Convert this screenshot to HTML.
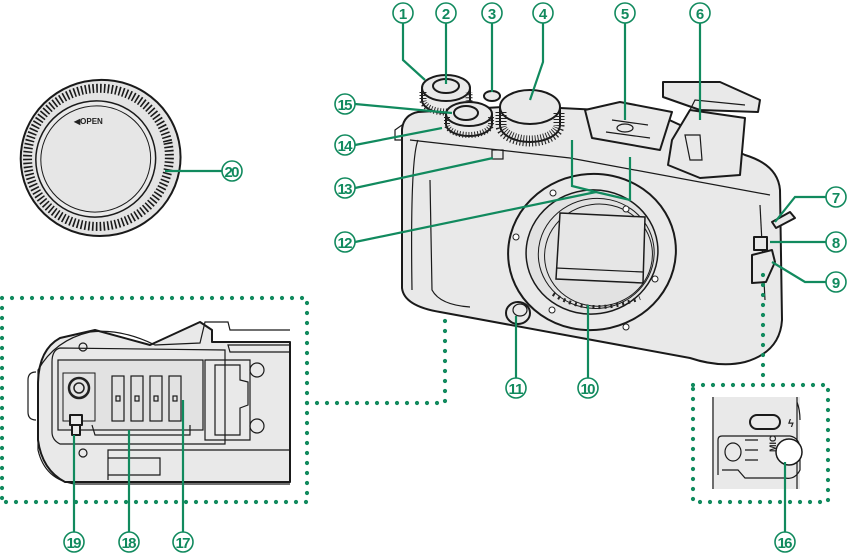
<!DOCTYPE html>
<html><head><meta charset="utf-8"><style>
html,body{margin:0;padding:0;background:#fff;}
svg{display:block;font-family:"Liberation Sans",sans-serif;}
.g{fill:none;stroke:#118a5e;stroke-width:2.2;}
.d{fill:none;stroke:#118a5e;stroke-width:4.2;stroke-linecap:round;stroke-dasharray:0 10;}
.b{fill:#e9e9e9;stroke:#1a1a1a;stroke-width:2;stroke-linejoin:round;}
.t{fill:none;stroke:#1a1a1a;stroke-width:1.2;}
.l circle{fill:#fff;stroke:#118a5e;stroke-width:1.6;}
.l text{fill:#118a5e;font-size:15px;font-weight:bold;text-anchor:middle;}
</style></head><body>
<svg width="848" height="556" viewBox="0 0 848 556" xmlns="http://www.w3.org/2000/svg">
<!-- body cap -->
<g transform="rotate(-12 100 155)">
<ellipse cx="100" cy="158" rx="80" ry="78" fill="#e4e4e4" stroke="#1a1a1a" stroke-width="2"/>
<ellipse cx="98" cy="157" rx="71" ry="69" fill="none" stroke="#1a1a1a" stroke-width="9" stroke-dasharray="1.6 2.2"/>
<ellipse cx="95" cy="158" rx="60" ry="58" fill="#e9e9e9" stroke="#1a1a1a" stroke-width="1.5"/>
<ellipse cx="95" cy="158" rx="55" ry="53" fill="#e6e6e6" stroke="#1a1a1a" stroke-width="1"/>
</g>
<text x="74" y="124" font-size="8" font-weight="bold" fill="#222">◀OPEN</text>

<!-- camera body -->
<path class="b" d="M402,130 Q403,115 418,112 L520,106 L600,110 L665,118 L745,155 Q778,165 780,190 L782,320 Q780,352 745,362 Q720,368 690,358 L440,312 Q404,306 402,288 Z"/>
<path class="t" d="M418,140 Q410,160 412,290"/>
<path class="t" d="M430,180 L432,290 Q440,305 470,307"/>
<path class="t" d="M410,140 Q500,150 570,158 L770,195"/>
<path class="t" d="M760,205 L765,300"/>
<path class="t" d="M395,130 L402,125 L402,140 L395,140 Z"/>
<!-- dial 1/2 -->
<path class="b" d="M422,88 L422,100 A24,13 0 0 0 470,100 L470,88 Z"/>
<ellipse cx="446" cy="88" rx="24" ry="13" class="b"/>
<path d="M423,92 L423,100 A23,12 0 0 0 469,100 L469,92" fill="none" stroke="#222" stroke-width="7" stroke-dasharray="1 2"/>
<ellipse cx="446" cy="86" rx="13" ry="7" class="b"/>
<!-- button 3 -->
<ellipse cx="492" cy="96" rx="8" ry="5" class="b"/>
<!-- dial 14/15 -->
<path class="b" d="M446,114 L446,124 A23,12 0 0 0 492,124 L492,114 Z"/>
<ellipse cx="469" cy="114" rx="23" ry="12" class="b"/>
<path d="M447,117 L447,124 A22,11 0 0 0 491,124 L491,117" fill="none" stroke="#222" stroke-width="6" stroke-dasharray="1 2"/>
<ellipse cx="466" cy="113" rx="12" ry="7" class="b"/>
<!-- dial 4 -->
<path class="b" d="M500,108 L500,125 A30,17 0 0 0 560,125 L560,108 Z"/>
<ellipse cx="530" cy="107" rx="30" ry="17" class="b"/>
<path d="M501,112 L501,125 A29,16 0 0 0 559,125 L559,112" fill="none" stroke="#222" stroke-width="11" stroke-dasharray="1 2"/>
<!-- hot shoe -->
<path class="b" d="M585,110 L620,102 L672,112 L660,150 L592,138 Z"/>
<path class="t" d="M612,120 L648,125 M606,132 L650,138"/>
<ellipse cx="625" cy="128" rx="8" ry="4" class="t"/>
<!-- viewfinder -->
<path class="b" d="M672,140 L690,110 L745,118 L740,175 L700,178 L668,165 Z"/>
<path class="t" d="M685,135 L690,160 L702,160 L700,135 Z"/>
<path class="b" d="M663,82 L720,82 L760,100 L758,112 L700,110 L663,97 Z"/>
<path class="t" d="M690,110 L695,100 L745,105"/>
<!-- indicator 13 -->
<rect x="492" y="150" width="11" height="9" class="t" fill="#fff"/>
<!-- lens mount -->
<g transform="rotate(-8 592 252)">
<ellipse cx="592" cy="252" rx="84" ry="78" class="b"/>
<ellipse cx="592" cy="252" rx="66" ry="62" fill="#e2e2e2" stroke="#1a1a1a" stroke-width="1.5"/>
<ellipse cx="596" cy="254" rx="58" ry="55" fill="none" stroke="#1a1a1a" stroke-width="1"/>
<ellipse cx="598" cy="256" rx="54" ry="51" fill="none" stroke="#1a1a1a" stroke-width="1"/>
</g>
<path d="M560,213 L645,217 L643,283 L556,279 Z" fill="#e6e6e6" stroke="#1a1a1a" stroke-width="1.5"/>
<path d="M556,268 L643,272" class="t"/>
<path d="M553,294 Q590,318 640,298" fill="none" stroke="#222" stroke-width="4" stroke-dasharray="2 4"/>
<g fill="#fff" stroke="#222" stroke-width="1">
<circle cx="553" cy="193" r="3"/><circle cx="626" cy="209" r="3"/><circle cx="655" cy="279" r="3"/>
<circle cx="516" cy="237" r="3"/><circle cx="552" cy="310" r="3"/><circle cx="626" cy="327" r="3"/>
</g>
<!-- lock 11 -->
<ellipse cx="518" cy="313" rx="12" ry="11" class="b"/>
<ellipse cx="520" cy="310" rx="7" ry="6" class="t"/>
<!-- strap lug / doors 7,8,9 -->
<path class="b" d="M772,222 L790,212 L795,218 L776,228 Z"/>
<rect x="754" y="237" width="13" height="13" class="b"/>
<path class="b" d="M752,255 L772,250 L775,262 L766,282 L752,283 Z"/>

<!-- bottom view -->
<g>
<path class="b" d="M290,342 L212,342 L212,330 L200,322 L150,345 L95,330 L60,338 Q38,350 38,385 L38,440 Q42,470 65,482 L290,482 Z" stroke="none"/>
<path class="t" stroke-width="2" d="M290,330 L230,330 L228,322 L205,322 L200,343 L155,345 Q120,328 90,332 Q55,340 38,370 L38,450 Q45,480 75,484 L290,484"/>
<path class="t" stroke-width="2" d="M36,372 Q28,372 28,380 L28,412 Q28,420 36,420"/>
<path class="t" d="M290,352 L230,352 L228,345 L290,345"/>
<path class="t" d="M290,450 L108,450 L108,480 M108,458 L160,458 L160,475 L108,475"/>
<path class="t" d="M52,362 Q52,350 60,348 L225,350 L225,444 L60,444 Q52,440 52,432 Z"/>
<rect x="58" y="360" width="145" height="70" fill="#e2e2e2" stroke="#1a1a1a" stroke-width="1.2"/>
<rect x="63" y="373" width="32" height="48" fill="#e4e4e4" stroke="#1a1a1a" stroke-width="1"/>
<circle cx="79" cy="388" r="10" fill="none" stroke="#222" stroke-width="2.5"/>
<circle cx="79" cy="388" r="5" fill="none" stroke="#222" stroke-width="1.5"/>
<g class="t" fill="#e9e9e9">
<rect x="112" y="376" width="12" height="45"/><rect x="131" y="376" width="12" height="45"/>
<rect x="150" y="376" width="12" height="45"/><rect x="169" y="376" width="12" height="45"/>
<rect x="116" y="396" width="4" height="5"/><rect x="135" y="396" width="4" height="5"/>
<rect x="154" y="396" width="4" height="5"/><rect x="173" y="396" width="4" height="5"/>
</g>
<path class="t" d="M92,425 L95,435 L190,435 L190,425"/>
<rect x="70" y="415" width="12" height="10" class="b" stroke-width="1.2"/>
<rect x="72" y="425" width="8" height="10" class="b" stroke-width="1.2"/>
<path class="t" stroke-width="2" d="M205,360 L250,360 L250,440 L205,440 Z"/>
<path class="t" d="M215,365 L240,365 L240,380 L248,382 L248,405 L240,408 L240,435 L215,435 Z"/>
<circle cx="257" cy="370" r="7" class="t"/><circle cx="257" cy="426" r="7" class="t"/>
<circle cx="83" cy="347" r="4" class="t"/><circle cx="83" cy="453" r="4" class="t"/>
</g>

<!-- mic box contents -->
<rect x="712" y="397" width="88" height="92" fill="#e9e9e9"/>
<path class="t" d="M713,397 L713,489 M797,397 L797,489 M797,402 Q800,410 800,420"/>
<rect x="750" y="415" width="30" height="14" rx="7" class="b" stroke-width="1.5"/>
<text x="788" y="427" font-size="11" font-weight="bold" fill="#222">&#x03DF;</text>
<path class="t" stroke-width="1.5" d="M718,475 L718,440 Q718,436 722,436 L790,436 Q800,438 800,450 L800,470 Q795,480 785,478 L745,478 L738,470 L722,470"/>
<circle cx="789" cy="452" r="13" fill="#fff" stroke="#1a1a1a" stroke-width="1.5"/>
<text x="768" y="460" font-size="9" font-weight="bold" fill="#222" transform="rotate(-90 768 452)">MIC</text>
<ellipse cx="733" cy="452" rx="8" ry="9" class="t"/>
<path class="t" d="M745,440 L758,440 M745,450 L758,450 M745,460 L758,460"/>

<!-- dotted boxes -->
<path class="d" d="M2,298 L307,298 L307,502 L2,502 M2,298 L2,502"/>
<path class="d" d="M307,403 L445,403 L445,312"/>
<path class="d" d="M763,275 L763,385"/>
<path class="d" d="M693,385 L828,385 L828,502 L693,502 Z"/>

<!-- leaders -->
<g class="g">
<path d="M403,23 L403,60 L425,80"/>
<path d="M446,23 L446,84"/>
<path d="M492,23 L492,92"/>
<path d="M543,23 L543,62 L530,100"/>
<path d="M625,23 L625,120"/>
<path d="M700,23 L700,120"/>
<path d="M826,197 L795,197 L775,222"/>
<path d="M826,242 L770,242"/>
<path d="M826,282 L805,282 L772,262"/>
<path d="M588,378 L588,305"/>
<path d="M516,378 L516,316"/>
<path d="M355,242 L596,192"/>
<path d="M572,140 L572,186 L596,192 L630,200 L630,157"/>
<path d="M355,188 L493,158"/>
<path d="M355,145 L442,128"/>
<path d="M355,104 L452,113"/>
<path d="M222,171 L165,171"/>
<path d="M785,532 L785,462"/>
<path d="M183,532 L183,400"/>
<path d="M129,532 L129,430"/>
<path d="M74,532 L74,435"/>
</g>
<!-- labels -->
<g class="l">
<circle cx="403" cy="13" r="10"/><text x="403" y="19">1</text>
<circle cx="446" cy="13" r="10"/><text x="446" y="19">2</text>
<circle cx="492" cy="13" r="10"/><text x="492" y="19">3</text>
<circle cx="543" cy="13" r="10"/><text x="543" y="19">4</text>
<circle cx="625" cy="13" r="10"/><text x="625" y="19">5</text>
<circle cx="700" cy="13" r="10"/><text x="700" y="19">6</text>
<circle cx="836" cy="197" r="10"/><text x="836" y="203">7</text>
<circle cx="836" cy="242" r="10"/><text x="836" y="248">8</text>
<circle cx="836" cy="282" r="10"/><text x="836" y="288">9</text>
<circle cx="588" cy="388" r="10"/><text x="588" y="394" textLength="15">10</text>
<circle cx="516" cy="388" r="10"/><text x="516" y="394" textLength="15">11</text>
<circle cx="345" cy="242" r="10"/><text x="345" y="248" textLength="15">12</text>
<circle cx="345" cy="188" r="10"/><text x="345" y="194" textLength="15">13</text>
<circle cx="345" cy="145" r="10"/><text x="345" y="151" textLength="15">14</text>
<circle cx="345" cy="104" r="10"/><text x="345" y="110" textLength="15">15</text>
<circle cx="785" cy="542" r="10"/><text x="785" y="548" textLength="15">16</text>
<circle cx="183" cy="542" r="10"/><text x="183" y="548" textLength="15">17</text>
<circle cx="129" cy="542" r="10"/><text x="129" y="548" textLength="15">18</text>
<circle cx="74" cy="542" r="10"/><text x="74" y="548" textLength="15">19</text>
<circle cx="232" cy="171" r="10"/><text x="232" y="177" textLength="15">20</text>
</g>
</svg>
</body></html>
